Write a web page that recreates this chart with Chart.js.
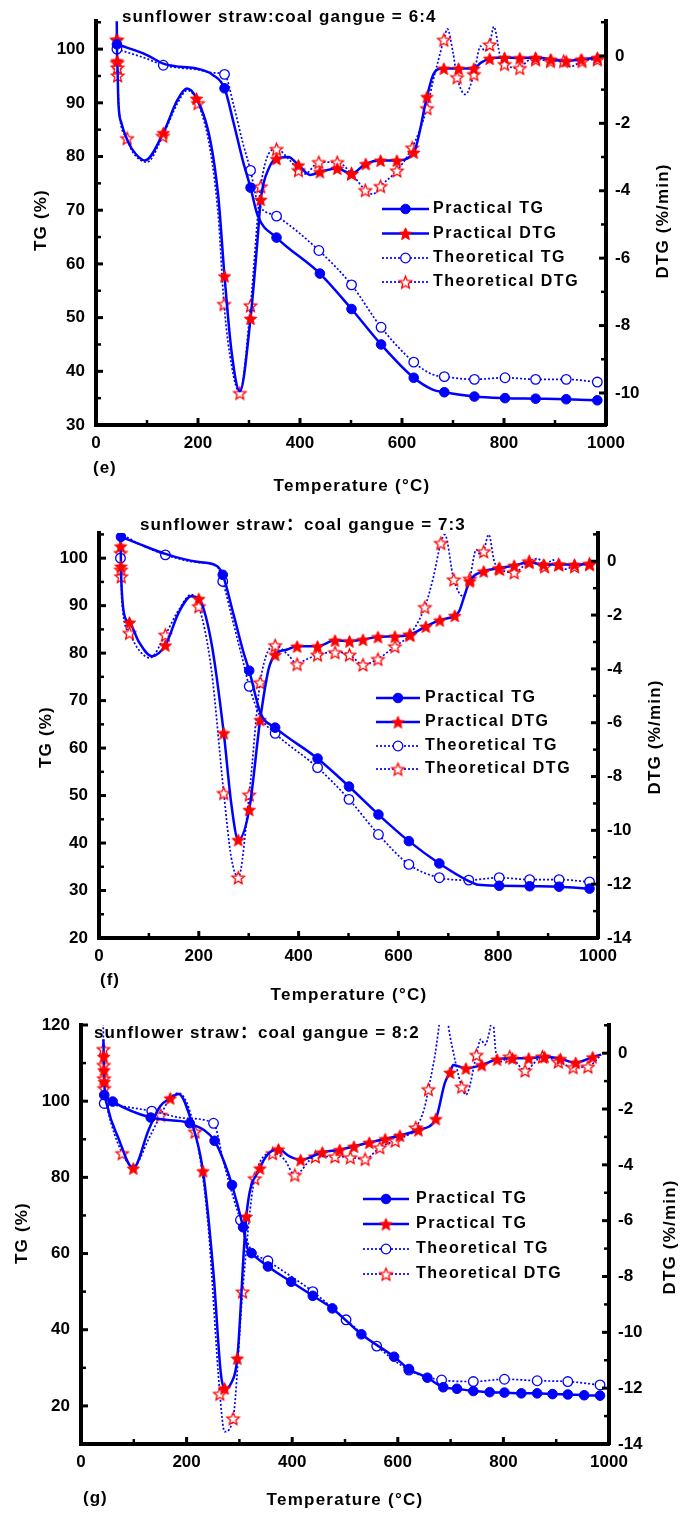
<!DOCTYPE html>
<html><head><meta charset="utf-8">
<script src="https://cdn.jsdelivr.net/npm/chart.js@4.4.0/dist/chart.umd.min.js"></script>
<style>
html,body{margin:0;padding:0;background:#fff;}
#wrap{position:relative;width:683px;height:1523px;overflow:hidden;background:#fff;}
#wrap canvas{position:absolute;left:0;}
</style></head><body>
<div id="wrap">
<canvas id="cE" width="683" height="505" style="top:0px"></canvas>
<canvas id="cF" width="683" height="505" style="top:500px"></canvas>
<canvas id="cG" width="683" height="523" style="top:1000px"></canvas>
</div>
<script>
// ---------------- DATA ----------------
const xTicks = [0, 200, 400, 600, 800, 1000];
const seriesLabels = ['Practical TG', 'Practical DTG', 'Theoretical TG', 'Theoretical DTG'];
const gSeriesLabels = ['Practical TG', 'Practical TG', 'Theoretical TG', 'Theoretical DTG'];
const xTitle = 'Temperature (°C)';
const tgTitle = 'TG (%)';
const dtgTitle = 'DTG (%/min)';

// panel (e)
const eTitle = 'sunflower straw:coal gangue = 6:4';
const eTag = '(e)';
const eTgTicks = [30, 40, 50, 60, 70, 80, 90, 100];
const eDtgTicks = [-10, -8, -6, -4, -2, 0];
const ePracTgT = [41, 100, 132, 165, 197, 229, 252, 270, 288, 303, 317, 354, 439, 501, 559, 623, 660, 683, 742, 802, 862, 922, 983];
const ePracTgV = [100.9, 98.9, 97.3, 96.7, 96.4, 95.2, 92.7, 86.2, 79.2, 74.2, 69.0, 64.9, 58.2, 51.6, 45.0, 38.8, 36.6, 36.1, 35.3, 35.0, 34.9, 34.8, 34.6];
const ePracTgM = [41, 252, 303, 354, 439, 501, 559, 623, 683, 742, 802, 862, 922, 983];
const eTheoTgT = [41, 100, 132, 165, 197, 229, 252, 270, 288, 303, 317, 354, 437, 501, 559, 623, 660, 683, 742, 802, 862, 922, 983];
const eTheoTgV = [100.0, 98.2, 97.0, 96.5, 96.2, 95.6, 95.3, 89.5, 82.5, 77.4, 71.5, 68.9, 62.5, 56.1, 48.2, 41.7, 39.4, 39.0, 38.5, 38.8, 38.5, 38.5, 38.0];
const eTheoTgM = [41, 132, 252, 303, 354, 437, 501, 559, 623, 683, 742, 802, 862, 922, 983];
const ePracDtgT = [40.5, 41, 41.5, 42, 44, 50, 61, 70, 96, 132, 160, 178, 197, 224, 240, 252, 266, 282, 303, 317, 323, 340, 354, 377, 397, 420, 439, 473, 501, 529, 558, 590, 623, 649, 660, 670, 682, 711, 741, 755, 772, 801, 831, 862, 892, 922, 951, 983];
const ePracDtgV = [1.6, 0.48, -0.15, -0.3, -1.4, -2.0, -2.48, -2.75, -3.1, -2.28, -1.3, -0.97, -1.26, -2.5, -4.2, -6.53, -8.8, -9.95, -7.79, -5.4, -4.26, -3.3, -3.05, -3.0, -3.24, -3.53, -3.44, -3.34, -3.49, -3.2, -3.1, -3.1, -2.86, -1.21, -0.6, -0.4, -0.37, -0.37, -0.37, -0.2, -0.08, -0.05, -0.06, -0.05, -0.1, -0.15, -0.1, -0.05];
const ePracDtgM = [41, 41.5, 132, 197, 252, 303, 323, 354, 397, 439, 473, 501, 529, 558, 590, 623, 649, 682, 711, 741, 772, 801, 831, 862, 892, 922, 951, 983];
const eTheoDtgT = [40.5, 41, 41.5, 42, 42.5, 45, 61, 70, 100, 131, 160, 179, 200, 224, 240, 251, 266, 282, 303, 323, 354, 380, 397, 410, 437, 473, 501, 528, 543, 558, 590, 620, 649, 660, 670, 682, 689, 700, 708, 724, 741, 754, 762, 772, 780, 793, 801, 831, 846, 862, 891, 917, 930, 953, 983];
const eTheoDtgV = [1.6, 0.48, -0.2, -0.34, -0.58, -1.6, -2.44, -2.8, -3.15, -2.37, -1.4, -1.02, -1.4, -2.8, -4.8, -7.36, -9.2, -10.0, -7.4, -3.87, -2.76, -3.1, -3.39, -3.5, -3.15, -3.15, -3.49, -3.98, -4.1, -3.86, -3.4, -2.72, -1.55, -0.8, -0.2, 0.48, 0.8, 0.1, -0.63, -1.14, -0.54, 0.29, 0.15, 0.34, 0.87, -0.05, -0.24, -0.36, -0.15, -0.1, -0.15, -0.15, -0.32, -0.15, -0.1];
const eTheoDtgM = [41, 41.5, 42, 42.5, 61, 131, 200, 251, 282, 303, 323, 354, 397, 437, 473, 501, 528, 558, 590, 620, 649, 682, 708, 741, 772, 801, 831, 862, 891, 917, 953, 983];

// panel (f)
const fTitle = 'sunflower straw：coal gangue = 7:3';
const fTag = '(f)';
const fTgTicks = [20, 30, 40, 50, 60, 70, 80, 90, 100];
const fDtgTicks = [-14, -12, -10, -8, -6, -4, -2, 0];
const fPracTgT = [44, 80, 133, 170, 200, 237, 248, 270, 290, 301, 324, 353, 438, 501, 560, 621, 682, 741, 760, 802, 863, 922, 983];
const fPracTgV = [104.5, 103.0, 100.9, 99.8, 99.2, 98.3, 96.5, 88.0, 80.0, 76.3, 67.3, 64.3, 57.8, 51.9, 46.0, 40.4, 35.7, 32.0, 31.2, 31.0, 30.9, 30.8, 30.4];
const fPracTgM = [44, 248, 301, 353, 438, 501, 560, 621, 682, 802, 863, 922, 983];
const fTheoTgT = [43, 45, 80, 133, 170, 200, 237, 248, 270, 290, 301, 324, 353, 438, 501, 560, 621, 682, 741, 802, 863, 922, 983];
const fTheoTgV = [100.0, 104.7, 103.0, 100.7, 99.6, 99.1, 98.2, 95.1, 86.0, 77.7, 73.0, 66.5, 63.1, 55.9, 49.2, 41.8, 35.5, 32.7, 32.2, 32.7, 32.3, 32.3, 31.8];
const fTheoTgM = [43, 133, 248, 301, 353, 438, 501, 560, 621, 682, 741, 802, 863, 922, 983];
const fPracDtgT = [43, 43.5, 44, 46, 54, 61, 80, 106, 133, 160, 185, 200, 225, 250, 265, 279, 301, 323, 340, 353, 377, 397, 438, 473, 502, 529, 559, 593, 623, 655, 683, 713, 722, 732, 743, 771, 801, 832, 862, 891, 922, 953, 983];
const fPracDtgV = [1.5, 0.56, -0.19, -1.2, -2.17, -2.27, -3.0, -3.53, -3.12, -1.9, -1.3, -1.39, -3.0, -6.38, -9.0, -10.35, -9.23, -5.89, -4.0, -3.47, -3.28, -3.16, -3.16, -2.94, -2.97, -2.91, -2.81, -2.79, -2.73, -2.42, -2.19, -2.02, -1.85, -1.3, -0.74, -0.37, -0.26, -0.16, -0.04, -0.12, -0.12, -0.12, -0.1];
const fPracDtgM = [43.5, 44, 61, 133, 200, 250, 279, 301, 323, 353, 397, 438, 473, 502, 529, 559, 593, 623, 655, 683, 713, 743, 771, 801, 832, 862, 891, 922, 953, 983];
const fTheoDtgT = [43, 43.5, 44, 44.5, 46, 61, 80, 102, 133, 160, 185, 200, 225, 250, 265, 279, 301, 323, 353, 380, 397, 410, 438, 473, 502, 529, 559, 593, 623, 653, 670, 685, 693, 711, 730, 743, 756, 766, 771, 781, 792, 803, 832, 862, 880, 893, 909, 921, 931, 953, 983];
const fTheoDtgV = [1.5, 0.31, -0.31, -0.56, -1.5, -2.66, -3.3, -3.59, -2.73, -1.8, -1.24, -1.67, -4.0, -8.61, -11.0, -11.75, -8.67, -4.5, -3.12, -3.5, -3.82, -3.7, -3.47, -3.38, -3.47, -3.84, -3.63, -3.16, -2.73, -1.70, -0.6, 0.68, 0.99, -0.68, -1.30, -0.65, 0.43, 0.2, 0.37, 0.99, 0.0, -0.28, -0.41, 0.0, 0.1, -0.19, 0.05, -0.12, -0.3, -0.19, -0.1];
const fTheoDtgM = [43.5, 44, 44.5, 61, 133, 200, 250, 279, 301, 323, 353, 397, 438, 473, 502, 529, 559, 593, 623, 653, 685, 711, 743, 771, 803, 832, 862, 893, 921, 953, 983];

// panel (g)
const gTitle = 'sunflower straw：coal gangue = 8:2';
const gTag = '(g)';
const gTgTicks = [20, 40, 60, 80, 100, 120];
const gDtgTicks = [-14, -12, -10, -8, -6, -4, -2, 0];
const gPracTgT = [44, 60, 132, 170, 206, 253, 272, 286, 307, 315, 323, 354, 398, 439, 476, 531, 593, 621, 656, 686, 712, 743, 774, 802, 834, 864, 893, 922, 953, 983];
const gPracTgV = [101.6, 99.9, 95.7, 95.0, 94.2, 89.6, 83.7, 78.0, 66.9, 61.5, 60.1, 56.6, 52.6, 48.9, 45.6, 38.8, 32.9, 29.7, 27.4, 24.9, 24.5, 23.9, 23.6, 23.5, 23.3, 23.3, 23.1, 23.0, 22.8, 22.7];
const gPracTgM = [44, 60, 132, 206, 253, 286, 307, 323, 354, 398, 439, 476, 531, 593, 621, 656, 686, 712, 743, 774, 802, 834, 864, 893, 922, 953, 983];
const gTheoTgT = [44, 134, 200, 251, 270, 290, 302, 320, 354, 439, 502, 560, 621, 683, 743, 802, 864, 922, 983];
const gTheoTgV = [99.4, 97.4, 95.5, 94.2, 84.0, 74.0, 68.8, 61.5, 58.1, 50.0, 42.6, 35.7, 29.4, 26.8, 26.4, 27.0, 26.6, 26.4, 25.5];
const gTheoTgM = [44, 134, 251, 302, 354, 439, 502, 560, 621, 683, 743, 802, 864, 922, 983];
const gPracDtgT = [42.5, 43, 43.5, 44, 50, 70, 99, 128, 150, 169, 185, 210, 231, 251, 265, 272, 285, 296, 313, 339, 355, 374, 395, 416, 457, 490, 517, 546, 576, 604, 639, 672, 689, 699, 705, 729, 759, 788, 817, 848, 878, 908, 937, 969, 985];
const gPracDtgV = [0.5, -0.12, -0.6, -1.02, -1.9, -3.0, -4.12, -2.75, -1.9, -1.61, -1.46, -2.5, -4.22, -7.9, -11.5, -12.0, -11.8, -10.93, -5.85, -4.12, -3.6, -3.44, -3.7, -3.82, -3.55, -3.46, -3.34, -3.2, -3.07, -2.95, -2.75, -2.35, -1.07, -0.69, -0.42, -0.54, -0.42, -0.22, -0.18, -0.18, -0.13, -0.2, -0.34, -0.14, -0.05];
const gPracDtgM = [43, 43.5, 44, 99, 169, 231, 272, 296, 313, 339, 374, 416, 457, 490, 517, 546, 576, 604, 639, 672, 699, 729, 759, 788, 817, 848, 878, 908, 937, 969];
const gTheoDtgT = [42, 42.5, 43, 43.5, 44, 50, 78, 99, 130, 151, 169, 185, 216, 240, 263, 272, 288, 306, 329, 363, 385, 405, 444, 481, 510, 538, 566, 595, 634, 650, 658, 671, 680, 687, 700, 721, 729, 749, 757, 765, 774, 779, 786, 795, 812, 841, 874, 904, 932, 960, 985];
const gTheoDtgV = [1.5, 0.15, -0.42, -0.9, -1.25, -2.0, -3.58, -4.06, -3.0, -2.21, -1.61, -1.43, -2.81, -6.0, -12.2, -13.56, -13.08, -8.54, -4.48, -3.58, -3.8, -4.36, -3.7, -3.70, -3.73, -3.79, -3.37, -3.13, -2.66, -2.0, -1.29, 0.0, 1.2, 1.8, 0.5, -1.2, -1.49, -0.06, 0.5, 0.3, 0.8, 1.3, 0.0, -0.3, -0.12, -0.62, -0.12, -0.3, -0.5, -0.48, -0.06];
const gTheoDtgM = [42.5, 43, 43.5, 44, 78, 151, 216, 263, 288, 306, 329, 363, 405, 444, 481, 510, 538, 566, 595, 634, 658, 721, 749, 812, 841, 874, 904, 932, 960];

// ---------------- STYLE / HELPERS ----------------
const FONT = "'Liberation Sans', Arial, Helvetica, 'Noto Sans CJK SC', sans-serif";
const BLUE = '#0000ff';
const RED = '#ff0000';
Chart.defaults.font.family = FONT;
Chart.defaults.color = '#000';

function makeStar(filled) {
  const R = 6.5, r = 2.9, pad = 2;
  const size = Math.ceil(2 * R + 2 * pad);
  const c = document.createElement('canvas');
  c.width = size; c.height = size;
  const g = c.getContext('2d');
  g.translate(size / 2, size / 2 + 0.8);
  g.beginPath();
  for (let i = 0; i < 10; i++) {
    const rad = i % 2 ? r : R;
    const a = -Math.PI / 2 + i * Math.PI / 5;
    g.lineTo(rad * Math.cos(a), rad * Math.sin(a));
  }
  g.closePath();
  g.fillStyle = filled ? RED : '#ffffff';
  g.fill();
  g.strokeStyle = RED;
  g.lineWidth = filled ? 1 : 1.3;
  g.stroke();
  return c;
}
const STAR_FILLED = makeStar(true);
const STAR_OPEN = makeStar(false);

function pts(T, V) {
  const n = Math.min(T.length, V.length);
  const out = [];
  for (let i = 0; i < n; i++) out.push({ x: T[i], y: V[i] });
  return out;
}

function dataset(label, T, V, marks, kind) {
  const set = new Set(marks);
  const solid = kind.startsWith('prac');
  const isTG = kind.endsWith('TG') && !kind.endsWith('DTG');
  const rad = isTG ? 4.8 : 6.5;
  let pointStyle, bg, bc, bw;
  if (kind === 'pracTG') { pointStyle = 'circle'; bg = BLUE; bc = BLUE; bw = 1; }
  else if (kind === 'theoTG') { pointStyle = 'circle'; bg = '#ffffff'; bc = BLUE; bw = 1.3; }
  else if (kind === 'pracDTG') { pointStyle = STAR_FILLED; bg = RED; bc = RED; bw = 1; }
  else { pointStyle = STAR_OPEN; bg = '#ffffff'; bc = RED; bw = 1.3; }
  return {
    label,
    data: pts(T, V),
    yAxisID: isTG ? 'y' : 'y1',
    borderColor: BLUE,
    borderWidth: solid ? 2.5 : 1.7,
    borderDash: solid ? [] : [2, 2],
    cubicInterpolationMode: 'monotone',
    fill: false,
    pointStyle,
    pointBackgroundColor: bg,
    pointBorderColor: bc,
    pointBorderWidth: bw,
    legendRadius: rad,
    pointRadius: (c) => (c.raw && set.has(c.raw.x)) ? rad : 0,
    pointHoverRadius: 0
  };
}

const innerTicks = {
  id: 'innerTicks',
  afterDraw(chart) {
    const ctx = chart.ctx, ca = chart.chartArea;
    ctx.save();
    ctx.strokeStyle = '#000';
    ctx.lineCap = 'butt';
    ['x', 'y', 'y1'].forEach(id => {
      const s = chart.scales[id];
      if (!s) return;
      const majors = s.ticks.map(t => t.value);
      const step = majors[1] - majors[0];
      const minors = [];
      majors.forEach(m => { const v = m + step / 2; if (v <= s.max + 1e-9) minors.push(v); });
      if (majors[0] - step / 2 >= s.min - 1e-9) minors.push(majors[0] - step / 2);
      const draw = (v, len, w) => {
        const p = s.getPixelForValue(v);
        ctx.lineWidth = w;
        ctx.beginPath();
        if (id === 'x') { ctx.moveTo(p, ca.bottom); ctx.lineTo(p, ca.bottom - len); }
        else if (id === 'y') { ctx.moveTo(ca.left, p); ctx.lineTo(ca.left + len, p); }
        else { ctx.moveTo(ca.right, p); ctx.lineTo(ca.right - len, p); }
        ctx.stroke();
      };
      majors.forEach(v => draw(v, 7, 3));
      minors.forEach(v => draw(v, 5, 2.5));
    });
    ctx.restore();
  }
};

const textPlugin = {
  id: 'panelText',
  afterDraw(chart, args, opts) {
    const ctx = chart.ctx;
    (opts.items || []).forEach(it => {
      ctx.save();
      ctx.font = it.font;
      ctx.fillStyle = '#000';
      try { ctx.letterSpacing = (it.spacing || 0) + 'px'; } catch (e) {}
      ctx.textBaseline = 'middle';
      ctx.textAlign = it.align || 'left';
      ctx.translate(it.x, it.y);
      if (it.rotate) ctx.rotate(-Math.PI / 2);
      ctx.fillText(it.text, 0, 0);
      ctx.restore();
    });
  }
};

const legendPlugin = {
  id: 'innerLegend',
  afterDraw(chart, args, opts) {
    const ctx = chart.ctx;
    chart.data.datasets.forEach((d, i) => {
      const y = opts.rows[i];
      ctx.save();
      ctx.strokeStyle = d.borderColor;
      ctx.lineWidth = d.borderWidth;
      ctx.setLineDash(d.borderDash || []);
      ctx.beginPath();
      ctx.moveTo(opts.x0, y); ctx.lineTo(opts.x1, y);
      ctx.stroke();
      ctx.setLineDash([]);
      ctx.fillStyle = d.pointBackgroundColor;
      ctx.strokeStyle = d.pointBorderColor;
      ctx.lineWidth = d.pointBorderWidth;
      Chart.helpers.drawPoint(ctx, { pointStyle: d.pointStyle, radius: d.legendRadius, rotation: 0, borderWidth: d.pointBorderWidth }, (opts.x0 + opts.x1) / 2, y);
      ctx.font = opts.font;
      ctx.fillStyle = '#000';
      try { ctx.letterSpacing = opts.spacing + 'px'; } catch (e) {}
      ctx.textAlign = 'left';
      ctx.textBaseline = 'middle';
      ctx.fillText(opts.labels[i], opts.xText, y);
      ctx.restore();
    });
  }
};

const TICK_FONT = { family: FONT, size: 17, weight: 'bold' };
const TITLE_FONT = 'bold 17px ' + FONT;
const LEGEND_FONT = 'bold 16px ' + FONT;

function panel(id, cfg) {
  const cv = document.getElementById(id);
  const W = cv.width, H = cv.height;
  const A = cfg.area;
  const fixed = (arr) => (s) => { s.ticks = arr.map(v => ({ value: v })); };
  const axisCommon = {
    type: 'linear',
    grid: { display: false, drawTicks: false },
    border: { display: true, color: '#000', width: 4 },
    ticks: { font: TICK_FONT, color: '#000', autoSkip: false, maxRotation: 0, callback: (v) => String(v) }
  };
  new Chart(cv, {
    type: 'line',
    data: { datasets: cfg.datasets },
    options: {
      responsive: false,
      animation: false,
      devicePixelRatio: 1,
      events: [],
      layout: { padding: { top: A.top, left: 0, right: 0, bottom: 0 } },
      plugins: {
        legend: { display: false },
        tooltip: { enabled: false },
        panelText: { items: cfg.texts },
        innerLegend: cfg.legend
      },
      scales: {
        x: Object.assign({}, axisCommon, {
          position: 'bottom', min: 0, max: 1000,
          afterBuildTicks: fixed(xTicks),
          ticks: Object.assign({}, axisCommon.ticks, { padding: 8 }),
          afterFit: (s) => { s.height = H - A.bottom; }
        }),
        y: Object.assign({}, axisCommon, {
          position: 'left', min: cfg.tgRange[0], max: cfg.tgRange[1],
          afterBuildTicks: fixed(cfg.tgTicks),
          ticks: Object.assign({}, axisCommon.ticks, { padding: 11 }),
          afterFit: (s) => { s.width = A.left; }
        }),
        y1: Object.assign({}, axisCommon, {
          position: 'right', min: cfg.dtgRange[0], max: cfg.dtgRange[1],
          afterBuildTicks: fixed(cfg.dtgTicks),
          ticks: Object.assign({}, axisCommon.ticks, { padding: 9 }),
          afterFit: (s) => { s.width = W - A.right; }
        })
      }
    },
    plugins: [innerTicks, textPlugin, legendPlugin]
  });
}

function texts(title, tx, ty, tag, gx, gy, xtx, xty, tgx, tgy, dtx, dty) {
  return [
    { text: title, x: tx, y: ty, align: 'left', font: TITLE_FONT, spacing: 1.1 },
    { text: tag, x: gx, y: gy, align: 'left', font: TITLE_FONT, spacing: 1 },
    { text: xTitle, x: xtx, y: xty, align: 'center', font: TITLE_FONT, spacing: 1.25 },
    { text: tgTitle, x: tgx, y: tgy, align: 'center', font: TITLE_FONT, spacing: 1.2, rotate: true },
    { text: dtgTitle, x: dtx, y: dty, align: 'center', font: TITLE_FONT, spacing: 1.2, rotate: true }
  ];
}

panel('cE', {
  area: { left: 96, right: 606, top: 13, bottom: 425 },
  tgRange: [30, 105.2], dtgRange: [-10.95, 1.03],
  tgTicks: eTgTicks, dtgTicks: eDtgTicks,
  datasets: [
    dataset(seriesLabels[0], ePracTgT, ePracTgV, ePracTgM, 'pracTG'),
    dataset(seriesLabels[1], ePracDtgT, ePracDtgV, ePracDtgM, 'pracDTG'),
    dataset(seriesLabels[2], eTheoTgT, eTheoTgV, eTheoTgM, 'theoTG'),
    dataset(seriesLabels[3], eTheoDtgT, eTheoDtgV, eTheoDtgM, 'theoDTG')
  ],
  texts: texts(eTitle, 122, 17, eTag, 93, 468, 352, 486, 41, 220, 663, 221),
  legend: { x0: 382, x1: 429, xText: 433, rows: [209, 233.5, 258, 282], labels: seriesLabels, font: LEGEND_FONT, spacing: 1.5 }
});

panel('cF', {
  area: { left: 99, right: 598, top: 33, bottom: 438 },
  tgRange: [20, 105.3], dtgRange: [-14, 1.05],
  tgTicks: fTgTicks, dtgTicks: fDtgTicks,
  datasets: [
    dataset(seriesLabels[0], fPracTgT, fPracTgV, fPracTgM, 'pracTG'),
    dataset(seriesLabels[1], fPracDtgT, fPracDtgV, fPracDtgM, 'pracDTG'),
    dataset(seriesLabels[2], fTheoTgT, fTheoTgV, fTheoTgM, 'theoTG'),
    dataset(seriesLabels[3], fTheoDtgT, fTheoDtgV, fTheoDtgM, 'theoDTG')
  ],
  texts: texts(fTitle, 140, 25, fTag, 100, 480, 349, 495, 46, 237, 655, 237),
  legend: { x0: 376, x1: 420, xText: 425, rows: [198, 222, 246, 269], labels: seriesLabels, font: LEGEND_FONT, spacing: 1.5 }
});

panel('cG', {
  area: { left: 81, right: 609, top: 25, bottom: 444 },
  tgRange: [10, 120], dtgRange: [-14, 1.01],
  tgTicks: gTgTicks, dtgTicks: gDtgTicks,
  datasets: [
    dataset(gSeriesLabels[0], gPracTgT, gPracTgV, gPracTgM, 'pracTG'),
    dataset(gSeriesLabels[1], gPracDtgT, gPracDtgV, gPracDtgM, 'pracDTG'),
    dataset(gSeriesLabels[2], gTheoTgT, gTheoTgV, gTheoTgM, 'theoTG'),
    dataset(gSeriesLabels[3], gTheoDtgT, gTheoDtgV, gTheoDtgM, 'theoDTG')
  ],
  texts: texts(gTitle, 94, 33, gTag, 83, 498, 345, 500, 22, 233, 670, 237),
  legend: { x0: 363, x1: 409, xText: 416, rows: [199, 224, 249, 274], labels: gSeriesLabels, font: LEGEND_FONT, spacing: 1.5 }
});
</script>
</body></html>
